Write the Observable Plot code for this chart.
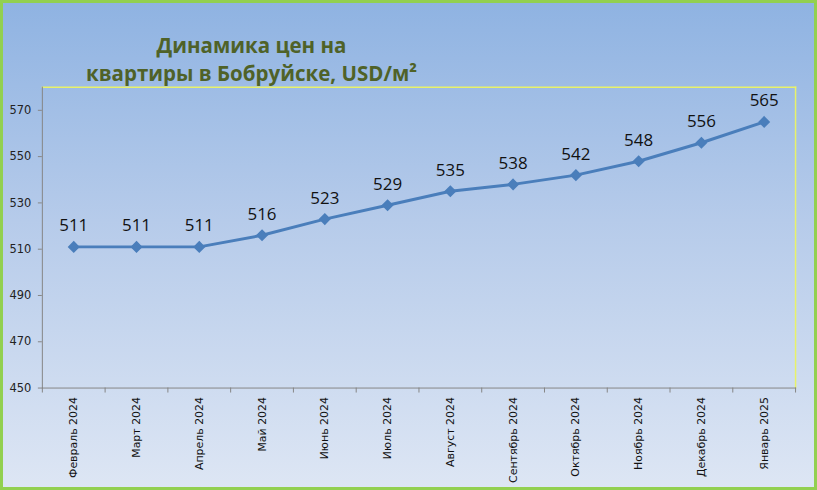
<!DOCTYPE html>
<html><head><meta charset="utf-8">
<script src="https://cdn.jsdelivr.net/npm/d3@7"></script>
<script src="https://cdn.jsdelivr.net/npm/@observablehq/plot@0.6"></script>
<style>
html,body{margin:0;padding:0;}
#wrap{position:relative;width:817px;height:490px;box-sizing:border-box;border:3px solid #92d050;
background:linear-gradient(to bottom,#8fb3e2 0%,#b6cbea 45%,#dde6f4 100%);overflow:hidden;}
#title{position:absolute;left:0;top:28px;width:497px;text-align:center;font-family:"Open Sans",sans-serif;
font-weight:bold;font-size:20.5px;line-height:28px;color:#4f6228;}
#chart{position:absolute;left:-3px;top:-3px;}
</style></head>
<body><div id="wrap"><div id="title">Динамика цен на<br>квартиры в Бобруйске, USD/м²</div><div id="chart"></div></div>
<script>
const months = ["Февраль 2024","Март 2024","Апрель 2024","Май 2024","Июнь 2024","Июль 2024","Август 2024","Сентябрь 2024","Октябрь 2024","Ноябрь 2024","Декабрь 2024","Январь 2025"];
const prices = [511,511,511,516,523,529,535,538,542,548,556,565];
const yTicks = [450,470,490,510,530,550,570];

const data = months.map((m,i)=>({i, m, v: prices[i]}));
const edges = d3.range(-0.5, months.length, 1);
const lineColor = "#4a7ebb";

const chart = Plot.plot({
  width: 817, height: 490,
  marginLeft: 42, marginRight: 19, marginTop: 87, marginBottom: 101,
  style: {background: "transparent", fontFamily: "'DejaVu Sans', sans-serif"},
  x: {type: "linear", domain: [-0.5, months.length - 0.5]},
  y: {domain: [450, 580]},
  marks: [
    Plot.frame({anchor: "top", stroke: "#e8f26a", strokeWidth: 1.5}),
    Plot.frame({anchor: "right", stroke: "#e8f26a", strokeWidth: 1.5}),
    Plot.frame({anchor: "left", stroke: "#868686"}),
    Plot.frame({anchor: "bottom", stroke: "#868686"}),
    Plot.axisY({ticks: yTicks, tickSize: 4, tickPadding: 7, fontSize: 11.5, color: "#222", label: null, stroke: "#868686"}),
    Plot.axisX({ticks: edges, tickSize: 5, tickFormat: () => "", label: null, stroke: "#868686"}),
    Plot.axisX({ticks: d3.range(months.length), tickSize: 0, tickPadding: 9, tickFormat: i => months[i],
      tickRotate: -90, textAnchor: "end", fontSize: 11, color: "#111", label: null}),
    Plot.line(data, {x: "i", y: "v", stroke: lineColor, strokeWidth: 3}),
    Plot.dot(data, {x: "i", y: "v", symbol: "diamond2", r: 4.5, fill: lineColor, stroke: lineColor}),
    Plot.text(data, {x: "i", y: "v", text: d => String(d.v), dy: -21, fontSize: 17, fill: "#111",
      fontFamily: "'Open Sans', sans-serif"})
  ]
});
document.getElementById("chart").appendChild(chart);
</script></body></html>
